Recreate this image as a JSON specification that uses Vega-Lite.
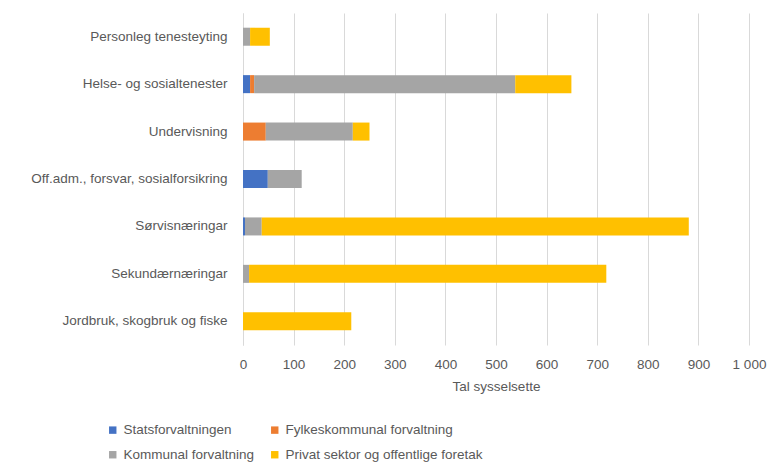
{
  "$schema": "https://vega.github.io/schema/vega-lite/v6.json",
  "width": 506,
  "height": 332,
  "autosize": {"type": "none"},
  "padding": {"left": 243, "top": 13, "right": 20, "bottom": 119},
  "background": "white",
  "config": {
    "locale": {"number": {"decimal": ",", "thousands": " ", "grouping": [3], "currency": ["", " kr"]}},
    "view": {"stroke": null},
    "font": "Liberation Sans"
  },
  "data": {
    "values": [
      {"naering": "Personleg tenesteyting", "sektor": "Kommunal forvaltning", "nr": 3, "tal": 14},
      {"naering": "Personleg tenesteyting", "sektor": "Privat sektor og offentlige foretak", "nr": 4, "tal": 39},
      {"naering": "Helse- og sosialtenester", "sektor": "Statsforvaltningen", "nr": 1, "tal": 14},
      {"naering": "Helse- og sosialtenester", "sektor": "Fylkeskommunal forvaltning", "nr": 2, "tal": 8},
      {"naering": "Helse- og sosialtenester", "sektor": "Kommunal forvaltning", "nr": 3, "tal": 516},
      {"naering": "Helse- og sosialtenester", "sektor": "Privat sektor og offentlige foretak", "nr": 4, "tal": 111},
      {"naering": "Undervisning", "sektor": "Fylkeskommunal forvaltning", "nr": 2, "tal": 45},
      {"naering": "Undervisning", "sektor": "Kommunal forvaltning", "nr": 3, "tal": 172},
      {"naering": "Undervisning", "sektor": "Privat sektor og offentlige foretak", "nr": 4, "tal": 33},
      {"naering": "Off.adm., forsvar, sosialforsikring", "sektor": "Statsforvaltningen", "nr": 1, "tal": 49},
      {"naering": "Off.adm., forsvar, sosialforsikring", "sektor": "Kommunal forvaltning", "nr": 3, "tal": 67},
      {"naering": "Sørvisnæringar", "sektor": "Statsforvaltningen", "nr": 1, "tal": 4},
      {"naering": "Sørvisnæringar", "sektor": "Kommunal forvaltning", "nr": 3, "tal": 33},
      {"naering": "Sørvisnæringar", "sektor": "Privat sektor og offentlige foretak", "nr": 4, "tal": 844},
      {"naering": "Sekundærnæringar", "sektor": "Kommunal forvaltning", "nr": 3, "tal": 12},
      {"naering": "Sekundærnæringar", "sektor": "Privat sektor og offentlige foretak", "nr": 4, "tal": 706},
      {"naering": "Jordbruk, skogbruk og fiske", "sektor": "Privat sektor og offentlige foretak", "nr": 4, "tal": 214}
    ]
  },
  "mark": {"type": "bar"},
  "encoding": {
    "y": {
      "field": "naering",
      "type": "nominal",
      "sort": null,
      "scale": {"paddingInner": 0.62, "paddingOuter": 0.31},
      "axis": {
        "title": null,
        "ticks": false,
        "domain": true,
        "domainColor": "#d9d9d9",
        "labelColor": "#595959",
        "labelFontSize": 13.5,
        "labelPadding": 16,
        "labelLimit": 300
      }
    },
    "x": {
      "field": "tal",
      "type": "quantitative",
      "stack": "zero",
      "scale": {"domain": [0, 1000], "nice": false},
      "axis": {
        "title": "Tal sysselsette",
        "titleFontWeight": "normal",
        "titleFontSize": 13.5,
        "titleColor": "#595959",
        "titlePadding": 9,
        "values": [0, 100, 200, 300, 400, 500, 600, 700, 800, 900, 1000],
        "format": ",d",
        "ticks": false,
        "domain": false,
        "grid": true,
        "gridColor": "#d9d9d9",
        "labelColor": "#595959",
        "labelFontSize": 13.5,
        "labelPadding": 12,
        "labelFlush": false
      }
    },
    "order": {"field": "nr", "type": "quantitative"},
    "color": {
      "field": "sektor",
      "type": "nominal",
      "scale": {
        "domain": ["Statsforvaltningen", "Kommunal forvaltning", "Fylkeskommunal forvaltning", "Privat sektor og offentlige foretak"],
        "range": ["#4472C4", "#A5A5A5", "#ED7D31", "#FFC000"]
      },
      "legend": {
        "title": null,
        "orient": "none",
        "legendX": -137,
        "legendY": 410,
        "columns": 2,
        "columnPadding": 13,
        "rowPadding": 10,
        "symbolType": "square",
        "symbolSize": 55,
        "labelOffset": 4,
        "labelColor": "#595959",
        "labelFontSize": 13.5,
        "labelLimit": 300
      }
    }
  }
}
